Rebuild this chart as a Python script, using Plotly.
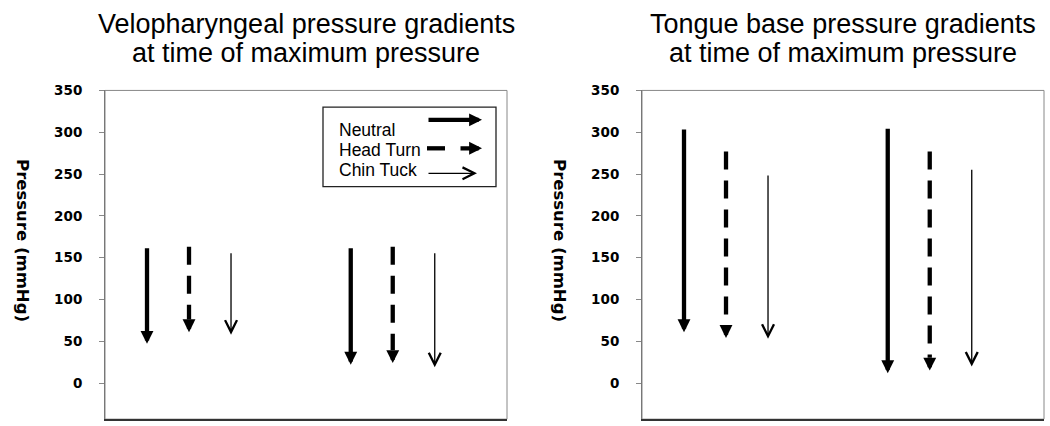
import plotly.graph_objects as go

# ---------------- data ----------------
conditions = ["Neutral", "Head Turn", "Chin Tuck"]
group_pos = [2.0, 6.85]          # x centre of each arrow group
cond_offset = [-1.0, 0.0, 1.0]   # x offset of each condition inside a group

titles = ["Velopharyngeal pressure gradients", "Tongue base pressure gradients"]
subtitle = "at time of maximum pressure"
y_title = "Pressure (mmHg)"
y_ticks = [0, 50, 100, 150, 200, 250, 300, 350]

# start (top) and end (arrow tip) pressures, [group1, group2]
vp_start = {"Neutral": [163, 163], "Head Turn": [163, 163], "Chin Tuck": [157, 157]}
vp_end = {"Neutral": [47, 22], "Head Turn": [61, 24], "Chin Tuck": [58, 19]}
tb_start = {"Neutral": [305, 306], "Head Turn": [277, 277], "Chin Tuck": [250, 257]}
tb_end = {"Neutral": [61, 12], "Head Turn": [54, 15], "Chin Tuck": [53, 20]}

# ---------------- layout constants ----------------
W, H = 1050, 426
Y_RANGE = [-43, 350]
X_RANGE = [0, 9.57]
xdoms = [[105 / W, 507 / W], [642 / W, 1044 / W]]
ydom = [7 / H, 342 / H]
ppu = H * (ydom[1] - ydom[0]) / (Y_RANGE[1] - Y_RANGE[0])  # pixels per mmHg

BLACK = "#000000"
HEAD_PX = 13  # arrow-head length in px

style = {
    "Neutral": dict(width=4.3, dash="solid", head=2, size=0.6),
    "Head Turn": dict(width=4.3, dash="18px,11px", head=2, size=0.6),
    "Chin Tuck": dict(width=1.3, dash="solid", head=5, size=1.8),
}

fig = go.Figure()
annotations = []
shapes = []

panels = [(vp_start, vp_end), (tb_start, tb_end)]
for p, (starts, ends) in enumerate(panels):
    xa = "x" if p == 0 else "x2"
    ya = "y" if p == 0 else "y2"
    for ci, cond in enumerate(conditions):
        st = style[cond]
        for g, gx in enumerate(group_pos):
            x = gx + cond_offset[ci]
            y0 = starts[cond][g]
            y1 = ends[cond][g]
            if cond == "Head Turn":
                shaft_end = y1 + HEAD_PX / ppu
                fig.add_trace(go.Scatter(
                    x=[x, x], y=[y0, shaft_end], mode="lines",
                    line=dict(color=BLACK, width=st["width"], dash=st["dash"]),
                    xaxis=xa, yaxis=ya, showlegend=False, hoverinfo="skip"))
                annotations.append(dict(
                    x=x, y=y1, xref=xa, yref=ya, ax=0, ay=-HEAD_PX,
                    axref="pixel", ayref="pixel", text="", showarrow=True,
                    arrowhead=st["head"], arrowsize=st["size"],
                    arrowwidth=st["width"], arrowcolor=BLACK, standoff=0))
            else:
                annotations.append(dict(
                    x=x, y=y1, xref=xa, yref=ya, ax=x, ay=y0,
                    axref=xa, ayref=ya, text="", showarrow=True,
                    arrowhead=st["head"], arrowsize=st["size"],
                    arrowwidth=st["width"], arrowcolor=BLACK, standoff=0))

    # panel border (top/right)
    shapes.append(dict(type="rect", xref=f"{xa} domain", yref=f"{ya} domain",
                       x0=0, x1=1, y0=0, y1=1, line=dict(color="#888888", width=1),
                       layer="below"))

    # titles
    xc = (xdoms[p][0] + xdoms[p][1]) / 2
    annotations.append(dict(x=xc, y=1 - 16 / H, xref="paper", yref="paper",
                            text=titles[p], showarrow=False,
                            font=dict(family="Liberation Sans, Arial", size=27, color=BLACK),
                            xanchor="center", yanchor="middle"))
    annotations.append(dict(x=xc, y=1 - 46 / H, xref="paper", yref="paper",
                            text=subtitle, showarrow=False,
                            font=dict(family="Liberation Sans, Arial", size=27, color=BLACK),
                            xanchor="center", yanchor="middle"))
    # y-axis title (reads top to bottom)
    annotations.append(dict(x=(xdoms[p][0] * W - 82) / W, y=1 - 236.5 / H,
                            xref="paper", yref="paper", text=f"<b>{y_title}</b>",
                            showarrow=False, textangle=90,
                            font=dict(family="DejaVu Sans", size=16.5, color=BLACK),
                            xanchor="center", yanchor="middle"))

# ---------------- legend (left panel) ----------------
def dx(px):
    return (px - 105) / 402


def dy(py):
    return (419 - py) / 335


shapes.append(dict(type="rect", xref="x domain", yref="y domain",
                   x0=dx(323), x1=dx(496), y0=dy(182), y1=dy(101),
                   line=dict(color="#222222", width=1.3), fillcolor="white"))
for cond, ty in zip(conditions, [124, 144.5, 165.5]):
    annotations.append(dict(x=dx(336.5), y=dy(ty), xref="x domain", yref="y domain",
                            text=cond, showarrow=False, xanchor="left", yanchor="middle",
                            font=dict(family="Liberation Sans, Arial", size=17.5, color=BLACK)))
# neutral legend arrow
annotations.append(dict(x=dx(482), y=dy(114), xref="x domain", yref="y domain",
                        ax=-55, ay=0, axref="pixel", ayref="pixel", text="", showarrow=True,
                        arrowhead=2, arrowsize=0.6, arrowwidth=4.3, arrowcolor=BLACK, standoff=0))
# head turn legend arrow
shapes.append(dict(type="line", xref="x domain", yref="y domain",
                   x0=dx(427), x1=dx(445), y0=dy(143), y1=dy(143),
                   line=dict(color=BLACK, width=4.3)))
annotations.append(dict(x=dx(482), y=dy(143), xref="x domain", yref="y domain",
                        ax=-23, ay=0, axref="pixel", ayref="pixel", text="", showarrow=True,
                        arrowhead=2, arrowsize=0.6, arrowwidth=4.3, arrowcolor=BLACK, standoff=0))
# chin tuck legend arrow
annotations.append(dict(x=dx(477), y=dy(168.5), xref="x domain", yref="y domain",
                        ax=-50, ay=0, axref="pixel", ayref="pixel", text="", showarrow=True,
                        arrowhead=5, arrowsize=1.8, arrowwidth=1.3, arrowcolor=BLACK, standoff=0))

xaxis_common = dict(range=X_RANGE, showticklabels=False, ticks="", showgrid=False,
                    zeroline=False, showline=True, linecolor="#333333", linewidth=2,
                    fixedrange=True)
yaxis_common = dict(range=Y_RANGE, tickvals=y_ticks, ticks="outside", ticklen=5,
                    tickcolor="#888888", tickwidth=1, showgrid=False, zeroline=False,
                    showline=True, linecolor="#777777", linewidth=1,
                    ticklabelstandoff=14,
                    tickfont=dict(family="DejaVu Sans", size=13.5, color=BLACK, weight="bold"),
                    domain=ydom, fixedrange=True)

fig.update_layout(
    width=W, height=H,
    margin=dict(l=0, r=0, t=0, b=0),
    paper_bgcolor="white", plot_bgcolor="white",
    showlegend=False,
    xaxis=dict(domain=xdoms[0], anchor="y", **xaxis_common),
    xaxis2=dict(domain=xdoms[1], anchor="y2", **xaxis_common),
    yaxis=dict(anchor="x", **yaxis_common),
    yaxis2=dict(anchor="x2", **yaxis_common),
    annotations=annotations,
    shapes=shapes,
)

fig.write_html("out.html", config={"displayModeBar": False},
               post_script="document.body.style.margin='0';document.body.style.overflow='hidden';")
